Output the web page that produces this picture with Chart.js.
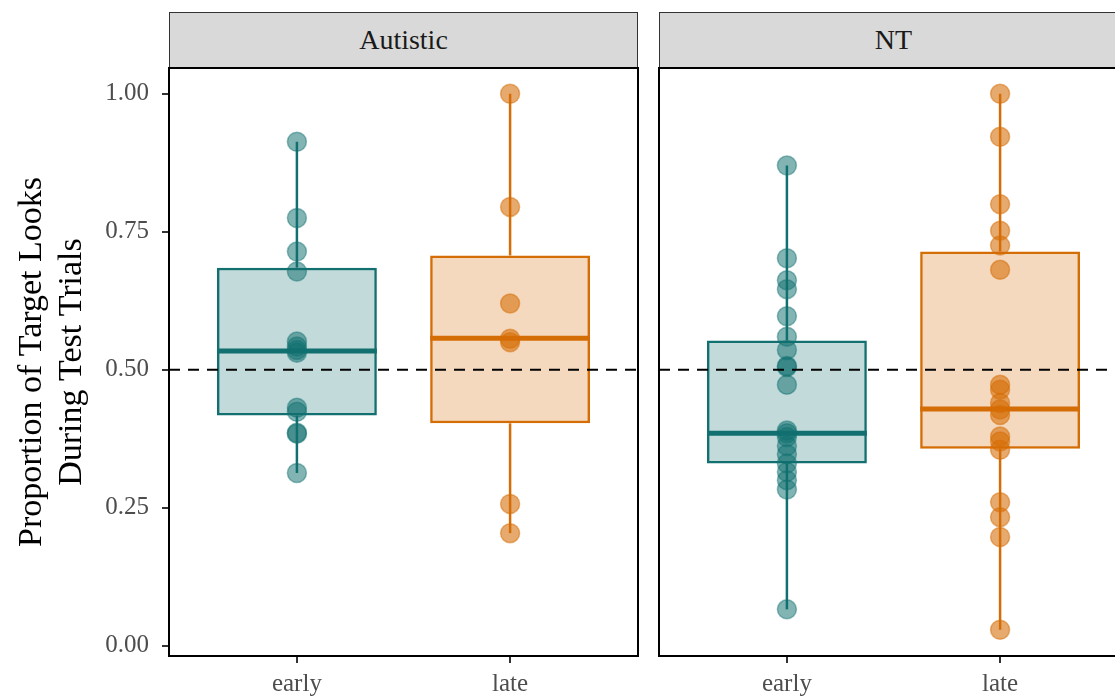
<!DOCTYPE html>
<html>
<head>
<meta charset="utf-8">
<script src="https://cdn.jsdelivr.net/npm/chart.js@4.4.1/dist/chart.umd.min.js"></script>
<style>
  body { margin: 0; width: 1115px; height: 700px; overflow: hidden; background: #fff; position: relative; font-family: "Liberation Serif", serif; }
  .strip { position: absolute; top: 12px; height: 56px; background: #d9d9d9; border: 1px solid #333; box-sizing: border-box;
           display: flex; align-items: center; justify-content: center; font-size: 28px; color: #1a1a1a; }
  .panel { position: absolute; top: 0; height: 700px; }
</style>
</head>
<body>
<div class="strip" style="left:169px;width:469px">Autistic</div>
<div class="strip" style="left:659px;width:469px">NT</div>
<div class="panel" style="left:0;width:650px"><canvas id="autChart"></canvas></div>
<div class="panel" style="left:645px;width:500px"><canvas id="ntChart"></canvas></div>

<script>
// categories
const groups = ["early", "late"];
const yTicks = [0, 0.25, 0.5, 0.75, 1];
const chanceLevel = 0.5;

// individual proportions
const autEarly = [0.913, 0.775, 0.714, 0.678, 0.551, 0.542, 0.536, 0.531, 0.431, 0.424, 0.386, 0.384, 0.313];
const autLate = [1.0, 0.795, 0.62, 0.556, 0.55, 0.257, 0.204];
const ntEarly = [0.870, 0.702, 0.662, 0.646, 0.597, 0.560, 0.536, 0.507, 0.505, 0.473, 0.390, 0.385, 0.378, 0.362, 0.347, 0.330, 0.315, 0.300, 0.283, 0.066];
const ntLate = [1.0, 0.922, 0.800, 0.752, 0.725, 0.681, 0.473, 0.464, 0.440, 0.428, 0.418, 0.379, 0.370, 0.355, 0.260, 0.233, 0.197, 0.029];

// box stats: [lower whisker, Q1, median, Q3, upper whisker]
const autEarlyBox = [0.313, 0.417, 0.534, 0.685, 0.913];
const autLateBox = [0.204, 0.403, 0.557, 0.707, 1.0];
const ntEarlyBox = [0.066, 0.330, 0.385, 0.553, 0.870];
const ntLateBox = [0.029, 0.357, 0.429, 0.714, 1.0];

const lineColors = ["#127070", "#d56d06"];
const boxFills = ["rgba(18,112,112,0.26)", "rgba(213,109,6,0.26)"];
const pointFills = ["rgba(18,112,112,0.52)", "rgba(213,109,6,0.58)"];
const pointEdges = ["rgba(18,112,112,0.45)", "rgba(213,109,6,0.5)"];
const boxWidth = 0.75;

function buildDatasets(pointSets, boxes) {
  const sets = [];
  sets.push({
    type: "bar",
    data: boxes.map((b, i) => ({ x: i + 1, y: [b[1], b[3]] })),
    backgroundColor: boxFills,
    borderColor: lineColors,
    borderWidth: 2.5,
    borderSkipped: false,
    categoryPercentage: 1,
    barPercentage: boxWidth,
    order: 6,
  });
  boxes.forEach((b, i) => {
    // whiskers
    [[b[0], b[1]], [b[3], b[4]]].forEach((seg) => {
      sets.push({
        type: "line",
        data: [{ x: i + 1, y: seg[0] }, { x: i + 1, y: seg[1] }],
        borderColor: lineColors[i],
        borderWidth: 2.5,
        pointRadius: 0,
        order: 5,
      });
    });
    // median
    sets.push({
      type: "line",
      data: [{ x: i + 1 - boxWidth / 2, y: b[2] }, { x: i + 1 + boxWidth / 2, y: b[2] }],
      borderColor: lineColors[i],
      borderWidth: 5,
      pointRadius: 0,
      order: 4,
    });
    // points
    sets.push({
      type: "scatter",
      data: pointSets[i].map((v) => ({ x: i + 1, y: v })),
      backgroundColor: pointFills[i],
      borderColor: pointEdges[i],
      borderWidth: 1.5,
      pointRadius: 9.5,
      order: 3,
    });
  });
  // chance line
  sets.push({
    type: "line",
    data: [{ x: 0.4, y: chanceLevel }, { x: 2.6, y: chanceLevel }],
    borderColor: "#000",
    borderWidth: 2,
    borderDash: [11, 8],
    pointRadius: 0,
    order: 1,
  });
  return sets;
}

const panelBorder = {
  id: "panelBorder",
  afterDraw(chart) {
    const { ctx, chartArea } = chart;
    ctx.save();
    ctx.strokeStyle = "#000";
    ctx.lineWidth = 2;
    ctx.strokeRect(chartArea.left, chartArea.top, chartArea.right - chartArea.left, chartArea.bottom - chartArea.top);
    ctx.restore();
  },
};

const tickFont = { family: "Liberation Serif", size: 25 };

function makeOptions(showY, padding) {
  return {
    responsive: true,
    maintainAspectRatio: false,
    animation: false,
    layout: { padding: padding },
    plugins: { legend: { display: false }, tooltip: { enabled: false } },
    scales: {
      x: {
        type: "linear",
        min: 0.4,
        max: 2.6,
        offset: false,
        afterBuildTicks: (s) => { s.ticks = [1, 2].map((v) => ({ value: v })); },
        afterFit: (s) => { s.height = 44; },
        grid: { offset: false, drawOnChartArea: false, drawTicks: true, tickLength: 7, color: "#333", lineWidth: 2 },
        border: { display: false },
        ticks: { font: tickFont, color: "#4d4d4d", padding: 6, maxRotation: 0, callback: (v) => groups[v - 1] || "" },
      },
      y: {
        display: showY,
        min: -0.0185,
        max: 1.0466,
        afterBuildTicks: (s) => { s.ticks = yTicks.map((v) => ({ value: v })); },
        afterFit: (s) => { if (showY) s.width = 169; },
        grid: { drawOnChartArea: false, drawTicks: true, tickLength: 7, color: "#333", lineWidth: 2 },
        border: { display: false },
        ticks: { font: tickFont, color: "#4d4d4d", padding: 13, callback: (v) => Number(v).toFixed(2) },
        title: {
          display: true,
          text: ["Proportion of Target Looks", "During Test Trials"],
          font: { family: "Liberation Serif", size: 34, lineHeight: 1.18 },
          color: "#000",
          padding: { top: 12, bottom: 4 },
        },
      },
    },
  };
}

new Chart(document.getElementById("autChart"), {
  type: "bar",
  data: { datasets: buildDatasets([autEarly, autLate], [autEarlyBox, autLateBox]) },
  options: makeOptions(true, { top: 68, right: 12, bottom: 0, left: 0 }),
  plugins: [panelBorder],
});

new Chart(document.getElementById("ntChart"), {
  type: "bar",
  data: { datasets: buildDatasets([ntEarly, ntLate], [ntEarlyBox, ntLateBox]) },
  options: makeOptions(false, { top: 68, right: 17, bottom: 0, left: 14 }),
  plugins: [panelBorder],
});
</script>
</body>
</html>
